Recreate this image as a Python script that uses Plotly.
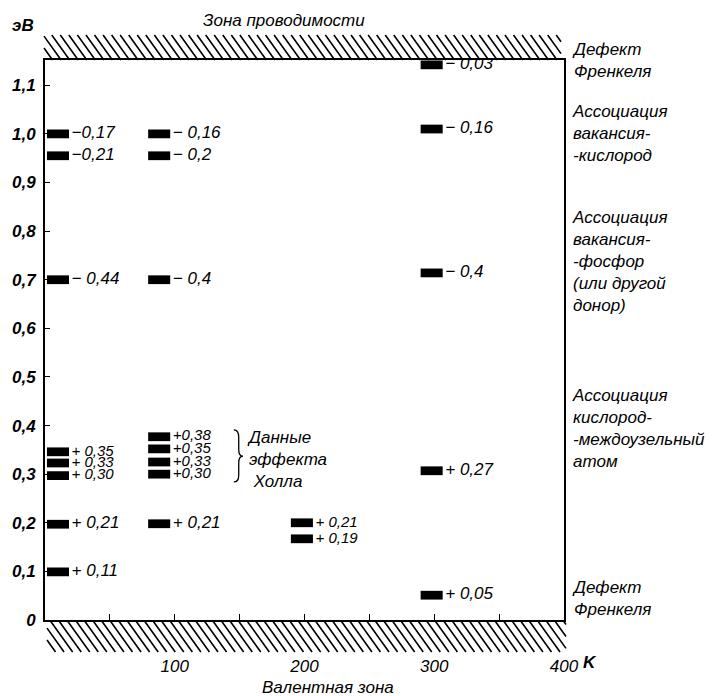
import plotly.graph_objects as go

# ---------------- data ----------------
# Temperature (K) at which each column of levels is drawn
T_col1 = 10
T_col2 = 88
T_col3 = 198
T_col4 = 298

# Level positions (eV above valence band) and their labels
levels_col1 = [1.000, 0.955, 0.700, 0.346, 0.323, 0.297, 0.197, 0.099]
labels_col1 = ["−0,17", "−0,21", "− 0,44", "+ 0,35", "+ 0,33", "+ 0,30", "+ 0,21", "+ 0,11"]

levels_col2 = [1.000, 0.955, 0.700, 0.377, 0.352, 0.325, 0.300, 0.198]
labels_col2 = ["− 0,16", "− 0,2", "− 0,4", "+0,38", "+0,35", "+0,33", "+0,30", "+ 0,21"]

levels_col3 = [0.200, 0.167]
labels_col3 = ["+ 0,21", "+ 0,19"]

levels_col4 = [1.142, 1.010, 0.714, 0.307, 0.051]
labels_col4 = ["− 0,03", "− 0,16", "− 0,4", "+ 0,27", "+ 0,05"]

x_tickvals = [100, 200, 300, 400]
x_ticktext = ["100", "200", "300", "400"]
x_minor_ticks = [50, 150, 250, 350]
y_tickvals = [0, 0.1, 0.2, 0.3, 0.4, 0.5, 0.6, 0.7, 0.8, 0.9, 1.0, 1.1]
y_ticktext = ["0", "0,1", "0,2", "0,3", "0,4", "0,5", "0,6", "0,7", "0,8", "0,9", "1,0", "1,1"]

right_notes = [
    (1.150, "Дефект<br>Френкеля"),
    (1.000, "Ассоциация<br>вакансия-<br>-кислород"),
    (0.737, "Ассоциация<br>вакансия-<br>-фосфор<br>(или другой<br>донор)"),
    (0.393, "Ассоциация<br>кислород-<br>-междоузельный<br>атом"),
    (0.045, "Дефект<br>Френкеля"),
]

# ---------------- styling ----------------
W, H = 722, 696
ML, MR, MT, MB = 42, 158, 60, 76
X_MAX = 400
Y_MAX = 1.152
BAR_W = 17
BAR_H = 0.018
FONT = "Liberation Sans, Arial, sans-serif"
PW = W - ML - MR
PH = H - MT - MB


def px_to_paper(px, py):
    return (px - ML) / PW, (H - MB - py) / PH


def label_sizes(levels):
    # smaller font where levels are tightly stacked
    sizes = []
    for i, v in enumerate(levels):
        close = any(abs(v - w) < 0.036 for j, w in enumerate(levels) if j != i)
        sizes.append(15 if close else 17)
    return sizes


fig = go.Figure()

columns = [
    (T_col1, levels_col1, labels_col1),
    (T_col2, levels_col2, labels_col2),
    (T_col3, levels_col3, labels_col3),
    (T_col4, levels_col4, labels_col4),
]
for T, levels, labels in columns:
    n = len(levels)
    fig.add_trace(go.Bar(
        x=[T] * n, y=[BAR_H] * n, base=[v - BAR_H / 2 for v in levels],
        width=BAR_W, marker=dict(color="black", line_width=0),
        hoverinfo="skip", showlegend=False))
    fig.add_trace(go.Scatter(
        x=[T + BAR_W / 2 + 2.0] * n, y=levels, mode="text", text=labels,
        textposition="middle right",
        textfont=dict(family=FONT, size=label_sizes(levels), color="black",
                      style="italic"),
        hoverinfo="skip", showlegend=False))

# ---------------- hatching (conduction / valence bands) ----------------
def hatch_path(px0, px1, py0, py1, step, slope):
    parts = []
    h = py1 - py0
    c = px0 - slope * h
    while c < px1:
        xa, ya = c, py0
        xb, yb = c + slope * h, py1
        if xa < px0:
            ya = py0 + (px0 - c) / slope
            xa = px0
        if xb > px1:
            yb = py0 + (px1 - c) / slope
            xb = px1
        if ya < yb:
            a = px_to_paper(xa, ya)
            b = px_to_paper(xb, yb)
            parts.append(f"M{a[0]:.5f},{a[1]:.5f} L{b[0]:.5f},{b[1]:.5f}")
        c += step
    return " ".join(parts)


for (x0, x1, y0, y1) in [(41, 561, 35, 60), (44, 566, 621, 652)]:
    fig.add_shape(type="path", xref="paper", yref="paper",
                  path=hatch_path(x0, x1, y0, y1, 8.6, 0.72),
                  line=dict(color="black", width=1.6))

# Brace for the Hall-effect data
fig.add_shape(type="path", xref="x", yref="y",
              path=("M145.5,0.391 Q149.3,0.391 149.3,0.376 L149.3,0.351 "
                    "Q149.3,0.337 152.6,0.337 Q149.3,0.337 149.3,0.323 "
                    "L149.3,0.298 Q149.3,0.284 145.5,0.284"),
              line=dict(color="black", width=1.3))

# ---------------- annotations ----------------
ann_font = dict(family=FONT, size=17, color="black", style="italic")
for yv, txt in right_notes:
    fig.add_annotation(x=px_to_paper(570, 0)[0], xref="paper", y=yv, yref="y",
                       text=txt, showarrow=False, xanchor="left", yanchor="middle",
                       align="left", font=ann_font)

fig.add_annotation(x=154, xref="x", y=0.331, yref="y",
                   text="Данные<br>эффекта<br> Холла", showarrow=False,
                   xanchor="left", yanchor="middle", align="left",
                   font=dict(family=FONT, size=17, color="black", style="italic"))

for (px, py, txt, bold) in [(282, 20, "Зона проводимости", False),
                            (327, 687, "Валентная зона", False),
                            (20, 25, "эВ", True),
                            (590, 662, "K", True)]:
    xp, yp = px_to_paper(px, py)
    fig.add_annotation(x=xp, y=yp, xref="paper", yref="paper", text=txt,
                       showarrow=False, xanchor="center", yanchor="middle",
                       font=dict(family=FONT, size=17, color="black", style="italic",
                                 weight="bold" if bold else "normal"))

# ---------------- axes ----------------
fig.update_xaxes(range=[0, X_MAX], showgrid=False, zeroline=False,
                 showline=True, linecolor="black", linewidth=2, mirror=True,
                 tickmode="array", tickvals=x_minor_ticks + x_tickvals,
                 ticktext=[""] * len(x_minor_ticks) + x_ticktext,
                 ticks="inside", ticklen=6, tickwidth=1.2, tickcolor="black",
                 ticklabelstandoff=30,
                 tickfont=dict(family=FONT, size=17, color="black", style="italic"))
fig.update_yaxes(range=[0, Y_MAX], showgrid=False, zeroline=False,
                 showline=True, linecolor="black", linewidth=2, mirror=True,
                 tickmode="array", tickvals=y_tickvals, ticktext=y_ticktext,
                 ticks="inside", ticklen=5, tickwidth=1.2, tickcolor="black",
                 ticklabelstandoff=4,
                 tickfont=dict(family=FONT, size=17, color="black", style="italic",
                               weight="bold"))

fig.update_layout(width=W, height=H, margin=dict(l=ML, r=MR, t=MT, b=MB),
                  paper_bgcolor="white", plot_bgcolor="white",
                  barmode="overlay", showlegend=False)

fig.write_html("out.html", config={"displayModeBar": False},
               post_script="document.body.style.margin='0';document.body.style.overflow='hidden';")
